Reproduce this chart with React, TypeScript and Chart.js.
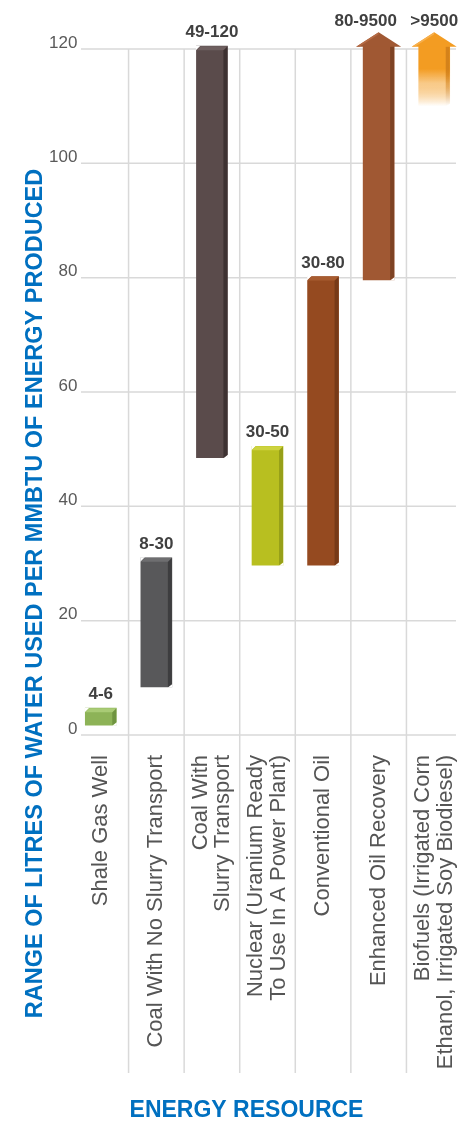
import React, { useEffect, useRef } from "react";
import { Chart, registerables } from "chart.js";
Chart.register(...registerables);

const categories: (string | string[])[] = [
  "Shale Gas Well",
  "Coal With No Slurry Transport",
  ["Coal With", "Slurry Transport"],
  ["Nuclear (Uranium Ready", "To Use In A Power Plant)"],
  "Conventional Oil",
  "Enhanced Oil Recovery",
  ["Biofuels (Irrigated Corn", "Ethanol, Irrigated Soy Biodiesel)"],
];
const rangeLow = [1.7, 8.4, 48.5, 29.7, 29.7, 79.6, 110];
const rangeHigh = [4.7, 31, 120.5, 50.5, 80.2, 120.5, 120.5];
const rangeLabels = ["4-6", "8-30", "49-120", "30-50", "30-80", "80-9500", ">9500"];
const openEnded = [false, false, false, false, false, true, true];
const fadingBar = [false, false, false, false, false, false, true];
const yTicks = [0, 20, 40, 60, 80, 100, 120];
const yTitle = "RANGE OF LITRES OF WATER USED PER MMBTU OF ENERGY PRODUCED";
const xTitle = "ENERGY RESOURCE";

const frontColors = ["#8DB357", "#58585A", "#5A4B4B", "#B8BF20", "#954A20", "#A05833", "#F39C22"];
const sideColors = ["#6F9440", "#3D3D3F", "#3E3232", "#97A018", "#773A18", "#7E4324", "#D4821A"];
const topColors = ["#A9CB75", "#6E6E70", "#6E5F5F", "#CDD33F", "#A85C30", "#B56B45", "#F7B04E"];

const FONT = "'Liberation Sans', Arial, sans-serif";

function fadeGradient(ctx: CanvasRenderingContext2D, yTop: number, yBot: number, color: string) {
  const g = ctx.createLinearGradient(0, yTop, 0, yBot);
  g.addColorStop(0, color);
  g.addColorStop(0.38, color);
  g.addColorStop(0.62, color + "88");
  g.addColorStop(1, "rgba(255,255,255,1)");
  return g;
}

const gridPlugin = {
  id: "customGrid",
  beforeDatasetsDraw(chart: any) {
    const { ctx, chartArea, scales } = chart;
    const xs = scales.x;
    const ys = scales.y;
    ctx.save();
    ctx.strokeStyle = "#d9d9d9";
    ctx.lineWidth = 1.5;
    const left = chartArea.left + 8;
    const right = chartArea.right - 6;
    yTicks.forEach((v) => {
      const y = ys.getPixelForValue(v);
      ctx.beginPath();
      ctx.moveTo(left, y);
      ctx.lineTo(right, y);
      ctx.stroke();
    });
    const top = ys.getPixelForValue(120);
    for (let i = 0; i < categories.length - 1; i++) {
      const x = (xs.getPixelForValue(i) + xs.getPixelForValue(i + 1)) / 2;
      ctx.beginPath();
      ctx.moveTo(x, top);
      ctx.lineTo(x, chartArea.bottom + 338);
      ctx.stroke();
    }
    ctx.restore();
  },
};

const decorPlugin = {
  id: "barDecor",
  afterDatasetsDraw(chart: any) {
    const ctx: CanvasRenderingContext2D = chart.ctx;
    const meta = chart.getDatasetMeta(0);
    meta.data.forEach((el: any, i: number) => {
      const { x, y, base, width } = el.getProps(["x", "y", "base", "width"], true);
      const top = Math.min(y, base);
      const bot = Math.max(y, base);
      const L = x - width / 2;
      const R = x + width / 2;
      const d = 4;
      ctx.save();
      ctx.fillStyle = "#ffffff";
      if (!openEnded[i]) {
        ctx.beginPath();
        ctx.moveTo(L - 0.5, top - 0.5);
        ctx.lineTo(L + d, top - 0.5);
        ctx.lineTo(L - 0.5, top + d);
        ctx.closePath();
        ctx.fill();
      }
      ctx.beginPath();
      ctx.moveTo(R + 0.5, bot + 0.5);
      ctx.lineTo(R + 0.5, bot - d + 1);
      ctx.lineTo(R - d, bot + 0.5);
      ctx.closePath();
      ctx.fill();
      ctx.fillStyle = fadingBar[i] ? fadeGradient(ctx, top, bot, sideColors[i]) : sideColors[i];
      ctx.beginPath();
      ctx.moveTo(R - d, top + (openEnded[i] ? 0 : d));
      ctx.lineTo(R, top);
      ctx.lineTo(R, bot - d + 1);
      ctx.lineTo(R - d, bot);
      ctx.closePath();
      ctx.fill();
      if (!openEnded[i]) {
        ctx.fillStyle = topColors[i];
        ctx.beginPath();
        ctx.moveTo(L, top + d);
        ctx.lineTo(L + d, top);
        ctx.lineTo(R, top);
        ctx.lineTo(R - d, top + d);
        ctx.closePath();
        ctx.fill();
      }
      let labelY = top - 9;
      if (openEnded[i]) {
        const hw = width / 2 + 7;
        const hh = 14;
        ctx.fillStyle = frontColors[i];
        ctx.beginPath();
        ctx.moveTo(x - hw, top + 0.5);
        ctx.lineTo(x + hw, top + 0.5);
        ctx.lineTo(x, top - hh);
        ctx.closePath();
        ctx.fill();
        ctx.fillStyle = topColors[i];
        ctx.beginPath();
        ctx.moveTo(x - hw, top + 0.5);
        ctx.lineTo(x - hw + 3, top + 0.5);
        ctx.lineTo(x, top - hh + 2);
        ctx.lineTo(x, top - hh);
        ctx.closePath();
        ctx.fill();
        labelY = top - hh - 6;
      }
      ctx.font = `bold 17px ${FONT}`;
      ctx.fillStyle = "#404040";
      ctx.textAlign = "center";
      ctx.textBaseline = "alphabetic";
      const shift = i === 5 ? -13 : 0;
      ctx.fillText(rangeLabels[i], x + shift, labelY);
      ctx.restore();
    });
  },
};

const textPlugin = {
  id: "textLabels",
  afterDraw(chart: any) {
    const { ctx, chartArea, scales } = chart;
    const xs = scales.x;
    ctx.save();
    ctx.font = `22px ${FONT}`;
    ctx.fillStyle = "#555555";
    const lh = 22.5;
    categories.forEach((c, i) => {
      const lines = Array.isArray(c) ? c : [c];
      const px = xs.getPixelForValue(i);
      lines.forEach((line, j) => {
        const cx = px + (j - (lines.length - 1) / 2) * lh;
        ctx.save();
        ctx.translate(cx, chartArea.bottom + 20);
        ctx.rotate(-Math.PI / 2);
        ctx.textAlign = "right";
        ctx.textBaseline = "middle";
        ctx.fillText(line, 0, 0);
        ctx.restore();
      });
    });
    ctx.save();
    ctx.font = `bold 23.5px ${FONT}`;
    ctx.fillStyle = "#0070C0";
    ctx.translate(41.7, 593.5);
    ctx.rotate(-Math.PI / 2);
    ctx.textAlign = "center";
    ctx.textBaseline = "alphabetic";
    ctx.fillText(yTitle, 0, 0);
    ctx.restore();
    ctx.font = `bold 23px ${FONT}`;
    ctx.fillStyle = "#0070C0";
    ctx.textAlign = "center";
    ctx.textBaseline = "alphabetic";
    ctx.fillText(xTitle, 246.5, 1117);
    ctx.restore();
  },
};

export default function App() {
  const ref = useRef<HTMLCanvasElement>(null);
  useEffect(() => {
    const canvas = ref.current!;
    const data = rangeLow.map((lo, i) => [lo, rangeHigh[i]]);
    const chart = new Chart(canvas, {
      type: "bar",
      data: {
        labels: categories as any,
        datasets: [
          {
            data: data as any,
            barThickness: 31,
            clip: false as any,
            borderWidth: 0,
            borderSkipped: false,
            backgroundColor: (c: any) => {
              const i = c.dataIndex;
              if (fadingBar[i]) {
                const ys = c.chart.scales && c.chart.scales.y;
                if (!ys) return frontColors[i];
                return fadeGradient(
                  c.chart.ctx,
                  ys.getPixelForValue(rangeHigh[i]),
                  ys.getPixelForValue(rangeLow[i]),
                  frontColors[i]
                );
              }
              return frontColors[i];
            },
          },
        ],
      },
      options: {
        responsive: false,
        animation: false,
        layout: { padding: { top: 49, left: 0, right: 0, bottom: 0 } },
        plugins: { legend: { display: false }, tooltip: { enabled: false }, title: { display: false } },
        scales: {
          x: {
            type: "category",
            offset: true,
            grid: { display: false, drawTicks: false },
            border: { display: false },
            ticks: { display: false },
            afterFit: (s: any) => {
              s.height = 387;
            },
          },
          y: {
            min: 0,
            max: 120,
            grid: { display: false, drawTicks: false },
            border: { display: false },
            ticks: {
              stepSize: 20,
              color: "#595959",
              font: { family: FONT, size: 17 },
              mirror: true,
              crossAlign: "far",
              padding: -24,
              labelOffset: -6,
            },
            afterFit: (s: any) => {
              s.width = 73;
            },
          },
        },
      },
      plugins: [gridPlugin, decorPlugin, textPlugin],
    });
    return () => chart.destroy();
  }, []);
  return (
    <div style={{ position: "absolute", left: 0, top: 0, width: 462, height: 1122, background: "#ffffff" }}>
      <canvas ref={ref} width={462} height={1122} style={{ display: "block", width: 462, height: 1122 }} />
    </div>
  );
}
